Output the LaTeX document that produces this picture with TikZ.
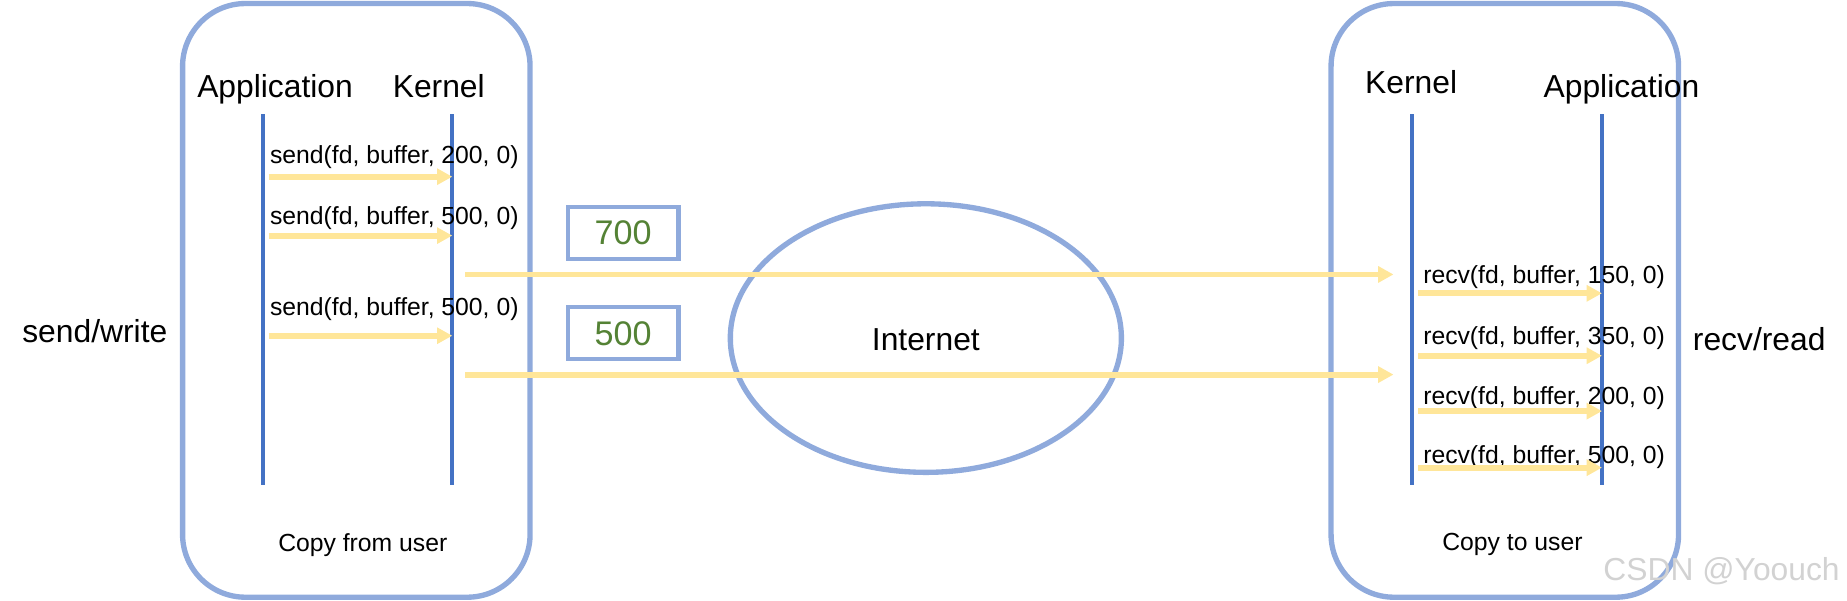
\documentclass[tikz,border=0pt]{standalone}
\usepackage{fontspec}
\setmainfont{Liberation Sans}
\usetikzlibrary{arrows.meta}

\definecolor{hostblue}{RGB}{143,170,220}
\definecolor{lifeblue}{RGB}{68,114,196}
\definecolor{msgyellow}{RGB}{255,230,153}
\definecolor{numgreen}{RGB}{84,130,53}
\definecolor{markgray}{RGB}{210,210,210}

\newcommand{\bigtxt}{\fontsize{20.25}{24}\selectfont}
\newcommand{\smalltxt}{\fontsize{15.75}{19}\selectfont}

\tikzset{
  host/.style={draw=hostblue, line width=3.4pt, rounded corners=40pt},
  lifeline/.style={draw=lifeblue, line width=2.6pt},
  msg/.style={draw=msgyellow, line width=3.75pt, -{Triangle[length=9.75pt,width=10pt]}},
  numbox/.style={draw=hostblue, line width=2.6pt, minimum width=70.5pt, minimum height=33pt, inner sep=0pt, text=numgreen, font=\fontsize{21.75}{26}\selectfont},
  title/.style={anchor=base, inner sep=0pt, font=\bigtxt},
  call/.style={anchor=base west, inner sep=0pt, font=\smalltxt},
}

\begin{document}
\begin{tikzpicture}[x=0.75pt,y=0.75pt,yscale=-1,xscale=1]
\useasboundingbox (0,0) rectangle (1568,510.2);

%Host boxes
\draw [host] (155,3) rectangle (450,507) ;
\draw [host] (1130,3) rectangle (1425,507) ;

%Internet cloud
\draw [draw=hostblue, line width=3.4pt] (786,287) ellipse [x radius=166, y radius=114] ;

% Text Node
\node [title] (appS) at (233.5,82.7) {Application};
\node [title] (kerS) at (372.5,82.7) {Kernel};
\node [title] (kerR) at (1198,79.7) {Kernel};
\node [title] (appR) at (1376.5,82.7) {Application};
\node [title] (sendw) at (80.5,290.7) {send/write};
\node [title] (recvr) at (1493.5,297.7) {recv/read};
\node [title] (net) at (786,297.7) {Internet};
\node [anchor=base, inner sep=0pt, font=\smalltxt] (cpS) at (308,468.5) {Copy from user};
\node [anchor=base, inner sep=0pt, font=\smalltxt] (cpR) at (1284,467.5) {Copy to user};
\node [title, text=markgray] (mark) at (1461.5,492.7) {CSDN @Yoouch};

%Life lines
\coordinate (appStop) at (223,97);   \coordinate (appSbot) at (223,412);
\coordinate (kerStop) at (384,97);   \coordinate (kerSbot) at (384,412);
\coordinate (kerRtop) at (1199,97);  \coordinate (kerRbot) at (1199,412);
\coordinate (appRtop) at (1360,97);  \coordinate (appRbot) at (1360,412);
\draw [lifeline] (appStop) -- (appSbot) ;
\draw [lifeline] (kerStop) -- (kerSbot) ;
\draw [lifeline] (kerRtop) -- (kerRbot) ;
\draw [lifeline] (appRtop) -- (appRbot) ;

%Send calls
\foreach \y/\n/\ty [count=\i] in {150/200/138.5, 200/500/190.5, 285/500/267.5}{
  \node [call] (send\i) at (229,\ty) {send(fd, buffer, \n, 0)};
  \coordinate (sa\i) at (228,\y);
  \coordinate (sb\i) at (384,\y);
  \draw [msg] (sa\i) -- (sb\i) ;
}

%Segments on the wire
\node [numbox] (seg700) at (529,198) {700};
\node [numbox] (seg500) at (529,283) {500};
\coordinate (wa1) at (395,233);  \coordinate (wb1) at (1183,233);
\coordinate (wa2) at (395,318);  \coordinate (wb2) at (1183,318);
\draw [msg] (wa1) -- (wb1) ;
\draw [msg] (wa2) -- (wb2) ;

%Recv calls
\foreach \y/\n/\ty [count=\i] in {249/150/240.5, 302/350/292.5, 349/200/343.5, 397/500/393.5}{
  \node [call] (recv\i) at (1208,\ty) {recv(fd, buffer, \n, 0)};
  \coordinate (ra\i) at (1204,\y);
  \coordinate (rb\i) at (1360,\y);
  \draw [msg] (ra\i) -- (rb\i) ;
}

\end{tikzpicture}
\end{document}
